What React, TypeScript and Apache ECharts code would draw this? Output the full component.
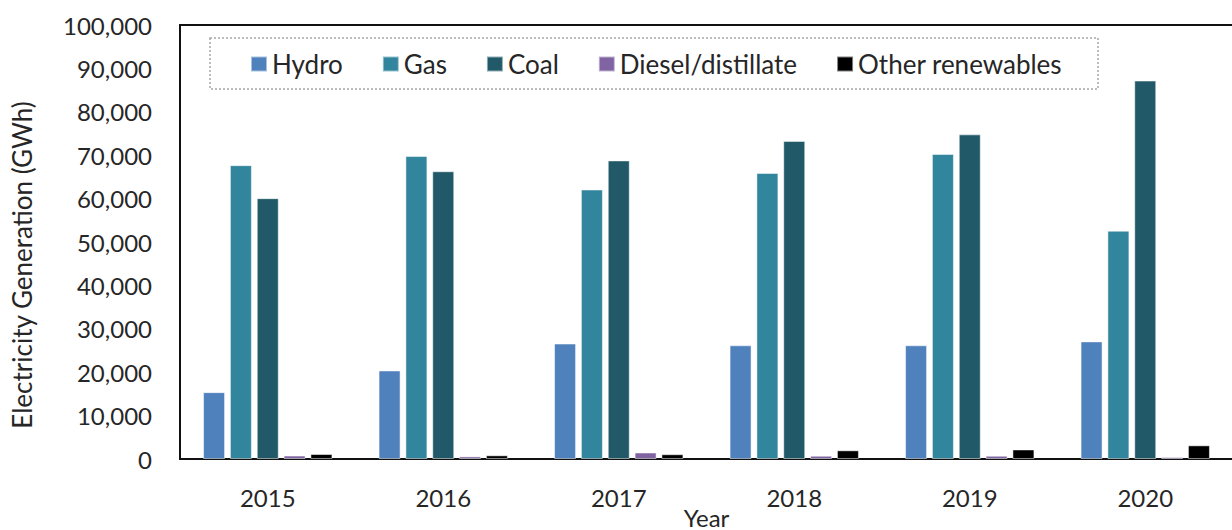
import React, { useEffect, useRef } from "react";
import * as echarts from "echarts";

const years = ["2015", "2016", "2017", "2018", "2019", "2020"];
const hydro = [15400, 20400, 26600, 26200, 26200, 27100];
const gas = [67700, 69800, 62100, 65900, 70300, 52600];
const coal = [60100, 66300, 68800, 73300, 74800, 87200];
const diesel = [800, 600, 1500, 750, 750, 450];
const otherRenewables = [1150, 850, 1100, 2000, 2200, 3150];
const yTicks = { min: 0, max: 100000, interval: 10000 };

const seriesDefs = [
  { name: "Hydro", data: hydro, color: "#4F81BD" },
  { name: "Gas", data: gas, color: "#31859C" },
  { name: "Coal", data: coal, color: "#215968" },
  { name: "Diesel/distillate", data: diesel, color: "#8064A2" },
  { name: "Other renewables", data: otherRenewables, color: "#000000" },
];

const FONT = "Lato, 'Open Sans', sans-serif";
const TEXT = "#262626";

export default function App() {
  const ref = useRef<HTMLDivElement>(null);
  useEffect(() => {
    document.body.style.margin = "0";
    if (!ref.current) return;
    const chart = echarts.init(ref.current, undefined, { renderer: "svg" });
    chart.setOption({
      animation: false,
      backgroundColor: "#ffffff",
      textStyle: { fontFamily: FONT, color: TEXT },
      grid: {
        left: 180,
        right: -1,
        top: 25,
        bottom: 71,
        containLabel: false,
        outerBoundsMode: "none",
        show: true,
        borderColor: "#111",
        borderWidth: 2,
        backgroundColor: "transparent",
      },
      legend: {
        left: 250,
        top: 51,
        padding: 0,
        itemGap: 39,
        itemWidth: 16,
        itemHeight: 15,
        icon: "rect",
        textStyle: { fontFamily: FONT, fontSize: 26, color: TEXT, lineHeight: 26 },
        data: seriesDefs.map((s) => s.name),
      },
      graphic: [
        {
          type: "rect",
          shape: { x: 210, y: 38, width: 888, height: 51 },
          style: { fill: "none", stroke: "#a6a6a6", lineWidth: 1.5, lineDash: [2, 2] },
          silent: true,
          z: -1,
        },
        {
          type: "text",
          x: 22,
          y: 265,
          rotation: Math.PI / 2,
          style: {
            text: "Electricity Generation (GWh)",
            font: `26px ${FONT}`,
            fill: TEXT,
            textAlign: "center",
            textVerticalAlign: "middle",
          },
        },
      ],
      xAxis: {
        type: "category",
        data: years,
        name: "Year",
        nameLocation: "middle",
        nameGap: 46,
        nameMoveOverlap: false,
        nameTextStyle: { fontFamily: FONT, fontSize: 24, color: TEXT },
        axisLine: { show: false },
        axisTick: { show: false },
        axisLabel: { fontFamily: FONT, fontSize: 24, color: TEXT, margin: 26 },
      },
      yAxis: {
        type: "value",
        min: yTicks.min,
        max: yTicks.max,
        interval: yTicks.interval,
        axisLine: { show: false },
        axisTick: { show: false },
        splitLine: { show: false },
        axisLabel: {
          fontFamily: FONT,
          fontSize: 24,
          color: TEXT,
          margin: 28,
          formatter: (v: number) => v.toLocaleString("en-US"),
        },
      },
      series: seriesDefs.map((s) => ({
        name: s.name,
        type: "bar",
        data: s.data,
        barWidth: 22,
        barGap: "22%",
        itemStyle: {
          color: s.color,
          borderColor: "rgba(255,255,255,0.5)",
          borderWidth: 1,
        },
      })),
    });
    return () => chart.dispose();
  }, []);
  return <div ref={ref} style={{ width: 1232, height: 530 }} />;
}
